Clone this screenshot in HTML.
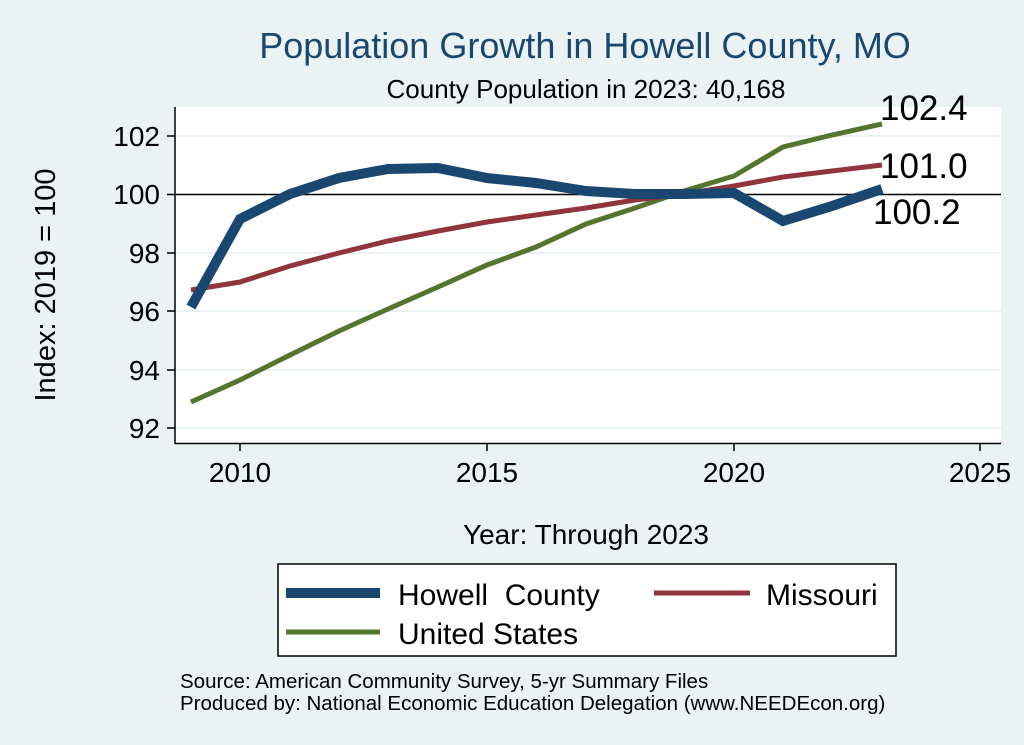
<!DOCTYPE html>
<html><head><meta charset="utf-8"><style>
body{margin:0;background:#eaf2f3;}
svg{display:block;font-family:"Liberation Sans",sans-serif;}
</style></head><body>
<svg width="1024" height="745" viewBox="0 0 1024 745">
<rect width="1024" height="745" fill="#eaf2f3"/>
<rect x="175" y="107" width="826" height="336" fill="#fff"/>
<g stroke="#eaf2f3" stroke-width="2">
<line x1="175" x2="1001" y1="136" y2="136"/>
<line x1="175" x2="1001" y1="253" y2="253"/>
<line x1="175" x2="1001" y1="311" y2="311"/>
<line x1="175" x2="1001" y1="370" y2="370"/>
<line x1="175" x2="1001" y1="428" y2="428"/>
</g>
<line x1="175" x2="1001" y1="194.5" y2="194.5" stroke="#000" stroke-width="1.5"/>
<g stroke="#000" stroke-width="1.5">
<line x1="175" x2="175" y1="107" y2="444"/>
<line x1="175" x2="1001" y1="443.5" y2="443.5"/>
<line x1="167" x2="175" y1="136" y2="136"/>
<line x1="167" x2="175" y1="194.5" y2="194.5"/>
<line x1="167" x2="175" y1="253" y2="253"/>
<line x1="167" x2="175" y1="311" y2="311"/>
<line x1="167" x2="175" y1="370" y2="370"/>
<line x1="167" x2="175" y1="428" y2="428"/>
<line x1="240" x2="240" y1="443" y2="451"/>
<line x1="487" x2="487" y1="443" y2="451"/>
<line x1="734" x2="734" y1="443" y2="451"/>
<line x1="980" x2="980" y1="443" y2="451"/>
</g>
<g font-size="28" text-anchor="end" fill="#000">
<text x="160" y="146">102</text><text x="160" y="204">100</text><text x="160" y="263">98</text>
<text x="160" y="321">96</text><text x="160" y="380">94</text><text x="160" y="438">92</text>
</g>
<g font-size="28" text-anchor="middle">
<text x="240" y="482">2010</text><text x="487" y="482">2015</text><text x="734" y="482">2020</text><text x="980" y="482">2025</text>
</g>
<text transform="translate(55,285) rotate(-90)" font-size="29" text-anchor="middle">Index: 2019 = 100</text>
<text x="586" y="544" font-size="28" text-anchor="middle">Year: Through 2023</text>
<text x="585" y="58" font-size="36" text-anchor="middle" fill="#1a476f">Population Growth in Howell County, MO</text>
<text x="586" y="98" font-size="26" text-anchor="middle">County Population in 2023: 40,168</text>
<polyline fill="none" stroke="#55752f" stroke-width="5" points="191,402 240,380 290,355 339,331 388,309 438,287 487,265 536,247 586,224 635,208 684,191 734,176 783,147 832,135 882,124"/>
<polyline fill="none" stroke="#90353b" stroke-width="5" points="191,290 240,282 290,266 339,253 388,241 438,231 487,222 536,215 586,208 635,200 684,194 734,186 783,177 832,171 882,165"/>
<polyline fill="none" stroke="#1a476f" stroke-width="10" points="191,307 240,219 290,194 339,178 388,169 438,168 487,178 536,183 586,191 635,194 684,194 734,193 783,221 832,206 882,189"/>
<g font-size="35"><text x="880" y="120">102.4</text><text x="880" y="178">101.0</text><text x="873" y="224">100.2</text></g>
<rect x="278" y="564" width="618" height="92" fill="#fff" stroke="#000" stroke-width="1.5"/>
<line x1="286" x2="380" y1="593" y2="593" stroke="#1a476f" stroke-width="10"/>
<line x1="654" x2="750" y1="593" y2="593" stroke="#90353b" stroke-width="5"/>
<line x1="286" x2="380" y1="632" y2="632" stroke="#55752f" stroke-width="5"/>
<g font-size="30"><text x="398" y="605">Howell&#160; County</text><text x="766" y="605">Missouri</text><text x="398" y="644">United States</text></g>
<g font-size="20.5"><text x="180" y="688">Source: American Community Survey, 5-yr Summary Files</text><text x="180" y="710">Produced by: National Economic Education Delegation (www.NEEDEcon.org)</text></g>
</svg>
</body></html>
